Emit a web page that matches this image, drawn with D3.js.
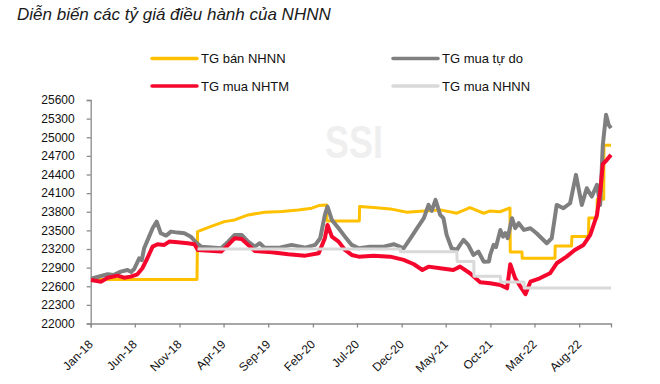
<!DOCTYPE html>
<html>
<head>
<meta charset="utf-8">
<script src="https://d3js.org/d3.v7.min.js"></script>
<style>
  body { margin: 0; background: #fff; }
  svg text { font-family: "Liberation Sans", Arial, sans-serif; }
</style>
</head>
<body>
<svg id="chart" width="660" height="384"></svg>
<script>
// values
const tgBanNHNN = [["2018-01-02",22710],["2018-12-31",22710],["2019-01-02",23480],["2019-02-15",23560],["2019-04-04",23641],["2019-05-09",23668],["2019-06-24",23749],["2019-08-20",23793],["2019-10-17",23803],["2019-12-13",23830],["2020-01-28",23857],["2020-02-21",23899],["2020-03-19",23910],["2020-03-20",23650],["2020-07-09",23650],["2020-07-10",23883],["2020-08-27",23867],["2020-10-23",23846],["2020-12-19",23793],["2021-02-15",23814],["2021-04-12",23830],["2021-06-08",23776],["2021-07-23",23867],["2021-09-08",23776],["2021-09-30",23814],["2021-11-03",23800],["2021-12-07",23860],["2021-12-08",23150],["2022-01-17",23150],["2022-01-18",23050],["2022-05-10",23050],["2022-05-11",23250],["2022-07-06",23250],["2022-07-07",23400],["2022-09-02",23400],["2022-09-03",23700],["2022-10-01",23700],["2022-10-02",24000],["2022-10-24",24000],["2022-10-25",24870],["2022-11-18",24870]];

const tgMuaTuDo = [["2018-01-02",22720],["2018-02-28",22793],["2018-03-20",22780],["2018-04-14",22835],["2018-05-07",22862],["2018-05-20",22830],["2018-05-30",22878],["2018-06-16",23050],["2018-06-25",23020],["2018-07-03",23212],["2018-07-20",23399],["2018-08-01",23535],["2018-08-15",23641],["2018-08-29",23454],["2018-09-16",23416],["2018-10-03",23480],["2018-10-26",23464],["2018-11-18",23454],["2018-12-10",23399],["2018-12-27",23309],["2019-01-14",23238],["2019-03-24",23212],["2019-04-17",23319],["2019-05-09",23427],["2019-06-02",23427],["2019-06-24",23319],["2019-07-17",23238],["2019-08-03",23293],["2019-08-19",23222],["2019-10-10",23222],["2019-11-20",23266],["2020-01-06",23222],["2020-02-09",23266],["2020-02-26",23373],["2020-03-13",23749],["2020-03-22",23883],["2020-04-06",23668],["2020-04-29",23535],["2020-05-21",23399],["2020-06-13",23266],["2020-07-07",23212],["2020-08-15",23238],["2020-09-30",23238],["2020-11-04",23277],["2020-12-08",23212],["2020-12-31",23373],["2021-01-23",23535],["2021-02-15",23696],["2021-03-03",23910],["2021-03-14",23814],["2021-03-27",23991],["2021-04-12",23749],["2021-04-23",23696],["2021-05-04",23427],["2021-05-21",23212],["2021-06-08",23185],["2021-06-19",23266],["2021-07-01",23346],["2021-07-17",23266],["2021-08-04",23104],["2021-08-21",23158],["2021-09-08",22996],["2021-09-26",23000],["2021-09-30",23100],["2021-10-12",23266],["2021-10-20",23230],["2021-11-04",23507],["2021-11-13",23399],["2021-11-21",23454],["2021-11-29",23373],["2021-12-14",23696],["2021-12-25",23535],["2022-01-06",23615],["2022-01-24",23507],["2022-02-15",23535],["2022-03-08",23454],["2022-04-12",23293],["2022-04-29",23373],["2022-05-16",23910],["2022-06-08",23857],["2022-07-01",23937],["2022-07-21",24394],["2022-08-10",23910],["2022-08-27",24179],["2022-09-13",24044],["2022-10-01",24233],["2022-10-12",23910],["2022-10-21",24877],["2022-11-01",25361],["2022-11-10",25200],["2022-11-18",25146]];

const tgMuaNHTM = [["2018-01-02",22700],["2018-02-06",22674],["2018-02-28",22738],["2018-04-03",22771],["2018-04-25",22738],["2018-05-18",22755],["2018-06-10",22793],["2018-06-27",22890],["2018-07-14",23051],["2018-08-01",23238],["2018-08-18",23277],["2018-09-10",23266],["2018-09-27",23319],["2018-10-26",23309],["2018-11-29",23293],["2018-12-22",23277],["2019-01-03",23185],["2019-03-24",23158],["2019-04-17",23266],["2019-05-09",23373],["2019-06-02",23362],["2019-06-24",23266],["2019-07-17",23169],["2019-09-13",23148],["2019-11-09",23115],["2020-01-06",23093],["2020-02-21",23132],["2020-03-13",23373],["2020-03-22",23588],["2020-04-06",23399],["2020-04-29",23319],["2020-05-21",23185],["2020-06-13",23104],["2020-07-07",23077],["2020-08-27",23093],["2020-10-23",23077],["2020-12-08",23024],["2021-01-12",22954],["2021-02-10",22862],["2021-03-03",22916],["2021-04-12",22890],["2021-05-27",22862],["2021-06-19",22916],["2021-07-23",22809],["2021-08-27",22664],["2021-09-30",22648],["2021-11-04",22621],["2021-11-27",22567],["2021-12-08",22954],["2021-12-25",22728],["2022-01-12",22594],["2022-01-29",22471],["2022-02-15",22674],["2022-03-19",22728],["2022-04-23",22809],["2022-05-16",22970],["2022-06-19",23077],["2022-07-17",23185],["2022-08-16",23266],["2022-09-08",23427],["2022-10-01",23749],["2022-10-12",24125],["2022-10-21",24566],["2022-11-04",24636],["2022-11-18",24716]];

const tgMuaNHNN = [["2019-01-02",23200],["2020-11-26",23200],["2020-11-27",23155],["2021-06-08",23155],["2021-06-09",23000],["2021-08-05",23000],["2021-08-06",22760],["2021-11-04",22760],["2021-11-05",22670],["2022-01-24",22670],["2022-01-25",22570],["2022-11-18",22570]];

const seriesNames = ["TG bán NHNN", "TG mua tự do", "TG mua NHTM", "TG mua NHNN"];
const seriesColors = ["#ffc000", "#7f7f7f", "#f5072d", "#d9d9d9"];
const yTicks = [22000, 22300, 22600, 22900, 23200, 23500, 23800, 24100, 24400, 24700, 25000, 25300, 25600];
const xTickLabels = ["Jan-18", "Jun-18", "Nov-18", "Apr-19", "Sep-19", "Feb-20", "Jul-20", "Dec-20", "May-21", "Oct-21", "Mar-22", "Aug-22"];

const svg = d3.select("#chart");
const parse = d3.timeParse("%Y-%m-%d");
const parseTick = d3.timeParse("%b-%y");

const x = d3.scaleTime()
  .domain([parse("2018-01-01"), parse("2022-11-18")])
  .range([90.7, 611]);
const y = d3.scaleLinear().domain([22000, 25600]).range([323.5, 100]);

// title
svg.append("text")
  .attr("x", 17).attr("y", 20)
  .attr("font-size", 17).attr("font-style", "italic")
  .attr("fill", "#1a1a1a")
  .text("Diễn biến các tỷ giá điều hành của NHNN");

// watermark
svg.append("text")
  .attr("transform", "translate(354,158) scale(0.78,1)")
  .attr("text-anchor", "middle")
  .attr("font-size", 46).attr("font-weight", "bold")
  .attr("fill", "#efefef")
  .text("SSI");

// legend
const legend = svg.append("g");
seriesNames.forEach((name, i) => {
  const lx = i % 2 === 0 ? 152 : 393;
  const ly = i < 2 ? 58.5 : 86;
  legend.append("line")
    .attr("x1", lx).attr("x2", lx + 45)
    .attr("y1", ly).attr("y2", ly)
    .attr("stroke", seriesColors[i])
    .attr("stroke-width", 3.5).attr("stroke-linecap", "round");
  legend.append("text")
    .attr("x", lx + 49).attr("y", ly)
    .attr("dy", "0.36em")
    .attr("font-size", 13)
    .attr("fill", "#111")
    .text(name);
});

// axes
const yAxis = svg.append("g")
  .attr("transform", "translate(90.7,0)")
  .call(d3.axisLeft(y).tickValues(yTicks).tickFormat(d3.format("d")).tickSize(4).tickPadding(12));
const xAxis = svg.append("g")
  .attr("transform", "translate(0,323.5)")
  .call(d3.axisBottom(x).tickValues(xTickLabels.map(parseTick)).tickFormat(() => "").tickSize(4));

[yAxis, xAxis].forEach(g => {
  g.selectAll("path, line").attr("stroke", "#8a8a8a").attr("stroke-width", 1.3);
});
yAxis.selectAll("text").attr("font-size", 12).attr("fill", "#111")
  .attr("font-family", "Liberation Sans, Arial, sans-serif");

svg.append("g").selectAll("text")
  .data(xTickLabels)
  .join("text")
  .attr("transform", d => `translate(${x(parseTick(d)) + 3},345) rotate(-45)`)
  .attr("text-anchor", "end")
  .attr("font-size", 12)
  .attr("fill", "#111")
  .text(d => d);

// lines
const line = d3.line()
  .x(d => x(parse(d[0])))
  .y(d => y(d[1]));

const allSeries = [tgBanNHNN, tgMuaTuDo, tgMuaNHTM, tgMuaNHNN];
const widths = [3, 4, 4, 3];
svg.append("g").selectAll("path")
  .data(allSeries)
  .join("path")
  .attr("d", line)
  .attr("fill", "none")
  .attr("stroke", (d, i) => seriesColors[i])
  .attr("stroke-width", (d, i) => widths[i])
  .attr("stroke-linejoin", "round")
  .attr("stroke-linecap", "butt");
</script>
</body>
</html>
